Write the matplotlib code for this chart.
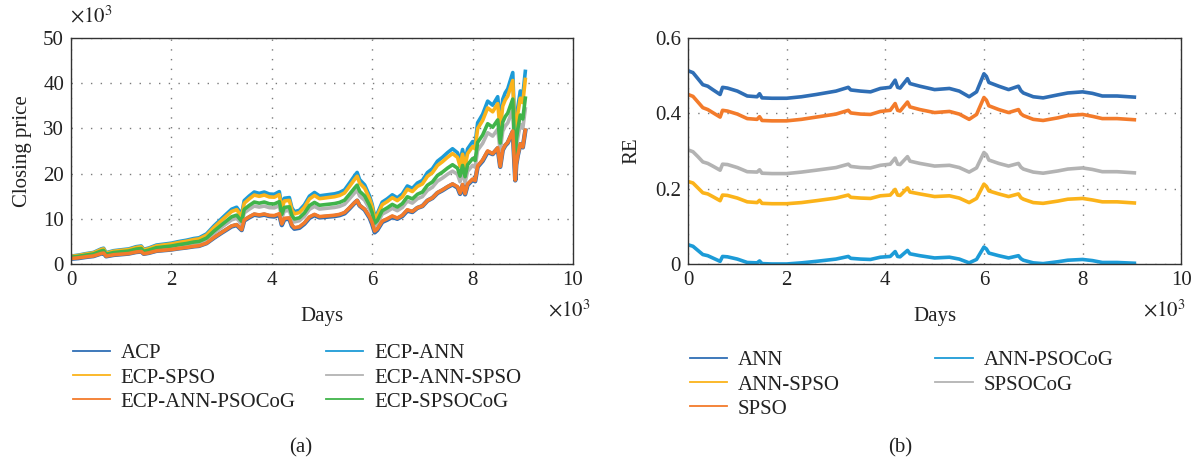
import matplotlib
matplotlib.use("Agg")
import matplotlib.pyplot as plt

plt.rcParams['font.family'] = ['Liberation Serif', 'DejaVu Serif']
plt.rcParams['mathtext.fontset'] = 'stix'

# ---------------- data: panel (a) closing price (x10^3) ----------------
days_a = [0, 150, 300, 450, 600, 650, 700, 850, 1000, 1150, 1300, 1400, 1450, 1550, 1700, 1850,
          2000, 2150, 2300, 2450, 2550, 2700, 2850, 3000, 3100, 3200, 3300, 3400, 3450, 3550,
          3650, 3750, 3850, 3950, 4050, 4150, 4200, 4250, 4350, 4400, 4450, 4550, 4650, 4750,
          4850, 4950, 5050, 5150, 5250, 5350, 5450, 5550, 5650, 5700, 5750, 5850, 5950, 6000,
          6050, 6100, 6200, 6300, 6400, 6500, 6600, 6700, 6800, 6900, 7000, 7100, 7200, 7300,
          7400, 7500, 7600, 7700, 7750, 7800, 7850, 7900, 8000, 8050, 8100, 8200, 8300, 8400,
          8500, 8550, 8600, 8650, 8700, 8800, 8850, 8870, 8900, 8950, 9000, 9050]

acp = [1.15, 1.30, 1.55, 1.75, 2.30, 2.40, 1.70, 2.00, 2.15, 2.30, 2.65, 2.75, 2.25, 2.45, 2.90, 3.05,
       3.20, 3.45, 3.65, 3.90, 4.00, 4.60, 5.80, 6.90, 7.60, 8.30, 8.60, 7.50, 9.60, 10.30,
       10.90, 10.70, 10.90, 10.60, 10.50, 10.90, 8.60, 9.90, 10.00, 8.40, 7.80, 8.00, 8.90, 10.20,
       10.80, 10.30, 10.40, 10.50, 10.60, 10.80, 11.20, 12.30, 13.50, 14.00, 12.90, 12.00, 10.20, 8.80,
       7.00, 7.50, 9.30, 9.80, 10.40, 10.00, 10.60, 11.80, 11.50, 12.40, 12.80, 14.00, 14.60, 15.70,
       16.30, 17.00, 17.60, 16.90, 15.50, 17.40, 15.40, 17.50, 18.60, 18.30, 21.50, 22.80, 24.80, 24.30,
       25.60, 21.50, 25.20, 26.20, 26.80, 29.30, 18.50, 22.00, 24.00, 26.50, 25.80, 29.50]

ecp_ann_psocog = [1.21, 1.37, 1.59, 1.78, 2.32, 2.42, 1.73, 2.04, 2.18, 2.31, 2.66, 2.76, 2.26, 2.46, 2.90, 3.05,
                  3.20, 3.45, 3.65, 3.92, 4.02, 4.62, 5.87, 6.98, 7.71, 8.42, 8.72, 7.61, 9.73, 10.44,
                  11.05, 10.85, 11.05, 10.75, 10.71, 11.12, 8.86, 10.10, 10.20, 8.65, 8.03, 8.24, 9.10, 10.42,
                  10.98, 10.48, 10.58, 10.68, 10.78, 10.98, 11.39, 12.46, 13.57, 14.07, 12.96, 12.14, 10.40, 9.15,
                  7.28, 7.73, 9.50, 10.02, 10.63, 10.16, 10.77, 11.99, 11.62, 12.44, 12.84, 14.04, 14.64, 15.79,
                  16.40, 17.10, 17.71, 17.09, 15.67, 17.59, 15.57, 17.69, 18.80, 18.46, 21.69, 23.01, 25.02, 24.40,
                  25.70, 21.59, 25.30, 26.30, 26.91, 29.42, 18.56, 22.07, 24.07, 26.58, 25.88, 29.59]

ecp_ann = [1.74, 1.97, 2.29, 2.56, 3.34, 3.49, 2.50, 2.94, 3.14, 3.33, 3.83, 3.98, 3.25, 3.54, 4.18, 4.39,
           4.61, 4.97, 5.26, 5.64, 5.79, 6.66, 8.45, 10.05, 11.10, 12.12, 12.56, 10.95, 14.02, 15.04,
           15.92, 15.62, 15.92, 15.48, 15.42, 16.01, 12.76, 14.54, 14.69, 12.46, 11.57, 11.87, 13.10, 15.01,
           15.82, 15.08, 15.23, 15.38, 15.52, 15.82, 16.40, 17.94, 19.54, 20.26, 18.67, 17.49, 14.98, 13.18,
           10.48, 11.12, 13.69, 14.42, 15.31, 14.63, 15.51, 17.26, 16.73, 17.91, 18.49, 20.22, 21.09, 22.74,
           23.61, 24.63, 25.50, 24.60, 22.56, 25.33, 22.42, 25.48, 27.08, 26.59, 31.24, 33.13, 36.03, 35.13,
           37.01, 31.08, 36.43, 37.88, 38.75, 42.36, 26.72, 31.78, 34.66, 38.28, 37.27, 42.61]

ecp_spso = [1.67, 1.89, 2.19, 2.46, 3.20, 3.34, 2.39, 2.82, 3.01, 3.19, 3.67, 3.81, 3.12, 3.39, 4.00, 4.21,
            4.42, 4.76, 5.04, 5.41, 5.55, 6.38, 8.10, 9.64, 10.63, 11.61, 12.03, 10.49, 13.43, 14.41,
            15.25, 14.97, 15.25, 14.83, 14.78, 15.34, 12.22, 13.94, 14.08, 11.94, 11.09, 11.37, 12.55, 14.38,
            15.16, 14.45, 14.59, 14.74, 14.88, 15.16, 15.72, 17.20, 18.72, 19.42, 17.89, 16.76, 14.36, 12.63,
            10.05, 10.66, 13.12, 13.82, 14.67, 14.02, 14.86, 16.55, 16.03, 17.16, 17.72, 19.38, 20.21, 21.80,
            22.63, 23.60, 24.43, 23.58, 21.62, 24.28, 21.49, 24.42, 25.95, 25.48, 29.94, 31.75, 34.53, 33.67,
            35.47, 29.79, 34.92, 36.30, 37.13, 40.60, 25.61, 30.45, 33.22, 36.68, 35.71, 40.83]

ecp_spsocog = [1.50, 1.70, 1.97, 2.21, 2.88, 3.00, 2.15, 2.53, 2.70, 2.87, 3.30, 3.42, 2.80, 3.05, 3.60, 3.78,
               3.97, 4.28, 4.53, 4.86, 4.98, 5.73, 7.28, 8.66, 9.55, 10.44, 10.81, 9.43, 12.07, 12.95,
               13.70, 13.45, 13.70, 13.33, 13.28, 13.79, 10.98, 12.52, 12.65, 10.73, 9.96, 10.22, 11.28, 12.93,
               13.62, 12.99, 13.12, 13.24, 13.37, 13.62, 14.12, 15.45, 16.82, 17.45, 16.08, 15.06, 12.90, 11.35,
               9.03, 9.58, 11.79, 12.42, 13.18, 12.60, 13.36, 14.87, 14.40, 15.42, 15.92, 17.41, 18.16, 19.58,
               20.33, 21.21, 21.96, 21.19, 19.43, 21.81, 19.31, 21.94, 23.32, 22.90, 26.90, 28.53, 31.03, 30.26,
               31.87, 26.77, 31.37, 32.62, 33.37, 36.48, 22.20, 27.36, 29.85, 32.96, 32.09, 36.69]

ecp_ann_spso = [1.40, 1.59, 1.84, 2.06, 2.69, 2.81, 2.01, 2.37, 2.53, 2.68, 3.09, 3.20, 2.62, 2.85, 3.36, 3.54,
                3.71, 4.00, 4.23, 4.55, 4.66, 5.36, 6.81, 8.10, 8.94, 9.76, 10.12, 8.82, 11.29, 12.11,
                12.82, 12.59, 12.82, 12.47, 12.42, 12.90, 10.27, 11.71, 11.83, 10.04, 9.32, 9.56, 10.55, 12.09,
                12.74, 12.15, 12.27, 12.39, 12.51, 12.74, 13.21, 14.45, 15.74, 16.32, 15.04, 14.09, 12.07, 10.62,
                8.44, 8.96, 11.03, 11.62, 12.33, 11.79, 12.49, 13.91, 13.47, 14.43, 14.89, 16.29, 16.99, 18.32,
                19.02, 19.84, 20.54, 19.82, 18.18, 20.41, 18.06, 20.52, 21.81, 21.42, 25.16, 26.69, 29.03, 28.30,
                29.81, 25.04, 29.35, 30.51, 31.21, 34.12, 21.53, 25.60, 27.92, 30.83, 30.02, 34.32]

# ---------------- data: panel (b) relative error ----------------
days_b = [0, 100, 200, 300, 400, 500, 650, 700, 800, 1000, 1200, 1400, 1450, 1500, 1700, 2000, 2300,
          2600, 3000, 3250, 3300, 3500, 3700, 3900, 4100, 4200, 4250, 4300, 4450, 4500, 4700, 5000,
          5300, 5500, 5700, 5850, 6000, 6050, 6100, 6300, 6500, 6700, 6750, 6800, 7000, 7200, 7500,
          7700, 8000, 8200, 8400, 8700, 9050]

re_ann_psocog = [0.051, 0.047, 0.036, 0.025, 0.022, 0.016, 0.007, 0.020, 0.019, 0.013, 0.004, 0.003, 0.008,
                 0.001, 0.000, 0.000, 0.003, 0.007, 0.013, 0.020, 0.015, 0.013, 0.012, 0.018, 0.020, 0.033,
                 0.020, 0.019, 0.036, 0.027, 0.022, 0.016, 0.018, 0.013, 0.003, 0.012, 0.045, 0.040, 0.029,
                 0.022, 0.016, 0.022, 0.014, 0.010, 0.003, 0.001, 0.006, 0.010, 0.012, 0.009, 0.004, 0.004, 0.002]

re_ann = [0.513, 0.508, 0.492, 0.476, 0.472, 0.463, 0.450, 0.469, 0.467, 0.459, 0.446, 0.444, 0.452,
          0.441, 0.440, 0.440, 0.444, 0.450, 0.459, 0.469, 0.462, 0.459, 0.457, 0.466, 0.469, 0.488,
          0.469, 0.467, 0.492, 0.479, 0.472, 0.463, 0.466, 0.459, 0.444, 0.457, 0.505, 0.498, 0.482,
          0.472, 0.463, 0.472, 0.460, 0.454, 0.444, 0.441, 0.449, 0.454, 0.457, 0.453, 0.446, 0.446, 0.443]

re_spso = [0.450, 0.445, 0.430, 0.415, 0.410, 0.402, 0.390, 0.408, 0.406, 0.398, 0.386, 0.384, 0.391,
           0.381, 0.380, 0.380, 0.384, 0.390, 0.398, 0.408, 0.401, 0.398, 0.397, 0.405, 0.408, 0.426,
           0.408, 0.406, 0.430, 0.417, 0.410, 0.402, 0.405, 0.398, 0.384, 0.397, 0.442, 0.435, 0.420,
           0.410, 0.402, 0.410, 0.399, 0.394, 0.384, 0.381, 0.388, 0.394, 0.397, 0.392, 0.386, 0.386, 0.383]

re_spsocog = [0.303, 0.298, 0.285, 0.271, 0.267, 0.260, 0.249, 0.265, 0.264, 0.256, 0.245, 0.244, 0.250,
              0.241, 0.240, 0.240, 0.244, 0.249, 0.256, 0.265, 0.259, 0.256, 0.255, 0.262, 0.265, 0.281,
              0.265, 0.264, 0.285, 0.273, 0.267, 0.260, 0.262, 0.256, 0.244, 0.255, 0.296, 0.290, 0.276,
              0.267, 0.260, 0.267, 0.257, 0.252, 0.244, 0.241, 0.247, 0.252, 0.255, 0.251, 0.245, 0.245, 0.242]

re_ann_spso = [0.219, 0.215, 0.202, 0.189, 0.186, 0.179, 0.168, 0.183, 0.182, 0.175, 0.165, 0.163, 0.169,
               0.161, 0.160, 0.160, 0.163, 0.168, 0.175, 0.183, 0.177, 0.175, 0.174, 0.181, 0.183, 0.198,
               0.183, 0.182, 0.202, 0.191, 0.186, 0.179, 0.181, 0.175, 0.163, 0.174, 0.212, 0.206, 0.194,
               0.186, 0.179, 0.186, 0.176, 0.172, 0.163, 0.161, 0.167, 0.172, 0.174, 0.170, 0.165, 0.165, 0.162]

x_ticks = [0, 2, 4, 6, 8, 10]
ya_ticks = [0, 10, 20, 30, 40, 50]
yb_ticks = [0, 0.2, 0.4, 0.6]
yb_ticklabels = ['0', '0.2', '0.4', '0.6']

C_DBLUE = '#2f6eb5'
C_LBLUE = '#1c9bd7'
C_YELLOW = '#fbb31a'
C_GRAY = '#b3b3b3'
C_ORANGE = '#f37b2b'
C_GREEN = '#40b44a'
C_TEXT = '#222222'

FS = 15
LW = 2.6

fig = plt.figure(figsize=(11.97, 4.65), dpi=100)
ax1 = fig.add_axes([0.0593, 0.4323, 0.4194, 0.4860])
ax2 = fig.add_axes([0.5748, 0.4323, 0.4120, 0.4860])

def kd(days):
    return [d / 1000.0 for d in days]

xa = kd(days_a)
xb = kd(days_b)

l_acp, = ax1.plot(xa, acp, color=C_DBLUE, lw=LW + 0.6, label='ACP')
l_ann, = ax1.plot(xa, ecp_ann, color=C_LBLUE, lw=LW, label='ECP-ANN')
l_spso, = ax1.plot(xa, ecp_spso, color=C_YELLOW, lw=LW, label='ECP-SPSO')
l_aspso, = ax1.plot(xa, ecp_ann_spso, color=C_GRAY, lw=LW, label='ECP-ANN-SPSO')
l_cog, = ax1.plot(xa, ecp_spsocog, color=C_GREEN, lw=LW, label='ECP-SPSOCoG')
l_apc, = ax1.plot(xa, ecp_ann_psocog, color=C_ORANGE, lw=LW, label='ECP-ANN-PSOCoG')

r_ann, = ax2.plot(xb, re_ann, color=C_DBLUE, lw=LW, label='ANN')
r_spso, = ax2.plot(xb, re_spso, color=C_ORANGE, lw=LW, label='SPSO')
r_cog, = ax2.plot(xb, re_spsocog, color=C_GRAY, lw=LW, label='SPSOCoG')
r_aspso, = ax2.plot(xb, re_ann_spso, color=C_YELLOW, lw=LW, label='ANN-SPSO')
r_apc, = ax2.plot(xb, re_ann_psocog, color=C_LBLUE, lw=LW, label='ANN-PSOCoG')

for ax, yt, ylt, ylim, ylab, lp in [(ax1, ya_ticks, [str(t) for t in ya_ticks], (0, 50), 'Closing price', 8),
                                    (ax2, yb_ticks, yb_ticklabels, (0, 0.6), 'RE', 10)]:
    ax.set_xlim(0, 10)
    ax.set_ylim(*ylim)
    ax.set_xticks(x_ticks)
    ax.set_xticklabels([str(t) for t in x_ticks])
    ax.set_yticks(yt)
    ax.set_yticklabels(ylt)
    ax.tick_params(length=0, labelsize=FS, colors=C_TEXT, pad=5)
    ax.grid(True, color='#7a7a7a', linestyle=(0, (1, 6)), linewidth=1.0)
    ax.set_axisbelow(True)
    for s in ax.spines.values():
        s.set_color('#333333')
        s.set_linewidth(1.0)
    ax.set_xlabel('Days', fontsize=FS, color=C_TEXT, labelpad=12)
    ax.set_ylabel(ylab, fontsize=FS, color=C_TEXT, labelpad=lp)

# x10^3 annotations
fig.text(0.0585, 0.965, r'$\times10^3$', fontsize=FS, color=C_TEXT, ha='left', va='center')
fig.text(0.4935, 0.333, r'$\times10^3$', fontsize=FS, color=C_TEXT, ha='right', va='center')
fig.text(0.9905, 0.333, r'$\times10^3$', fontsize=FS, color=C_TEXT, ha='right', va='center')

# legends
h1 = [l_acp, l_spso, l_apc, l_ann, l_aspso, l_cog]
leg1 = fig.legend(handles=h1, labels=[h.get_label() for h in h1], ncol=2, frameon=False,
                  loc='upper left', bbox_to_anchor=(0.0452, 0.301), fontsize=FS,
                  handlelength=1.8, handletextpad=0.5, columnspacing=1.45, labelspacing=0.22)
h2 = [r_ann, r_aspso, r_spso, r_apc, r_cog]
leg2 = fig.legend(handles=h2, labels=[h.get_label() for h in h2], ncol=2, frameon=False,
                  loc='upper left', bbox_to_anchor=(0.5605, 0.286), fontsize=FS,
                  handlelength=1.8, handletextpad=0.5, columnspacing=4.6, labelspacing=0.22)
for leg in (leg1, leg2):
    for ln in leg.get_lines():
        ln.set_linewidth(1.3)
    for t in leg.get_texts():
        t.set_color(C_TEXT)

fig.text(0.2515, 0.036, '(a)', fontsize=FS, color=C_TEXT, ha='center', va='center')
fig.text(0.7520, 0.036, '(b)', fontsize=FS, color=C_TEXT, ha='center', va='center')

fig.savefig('out.png', dpi=100)
